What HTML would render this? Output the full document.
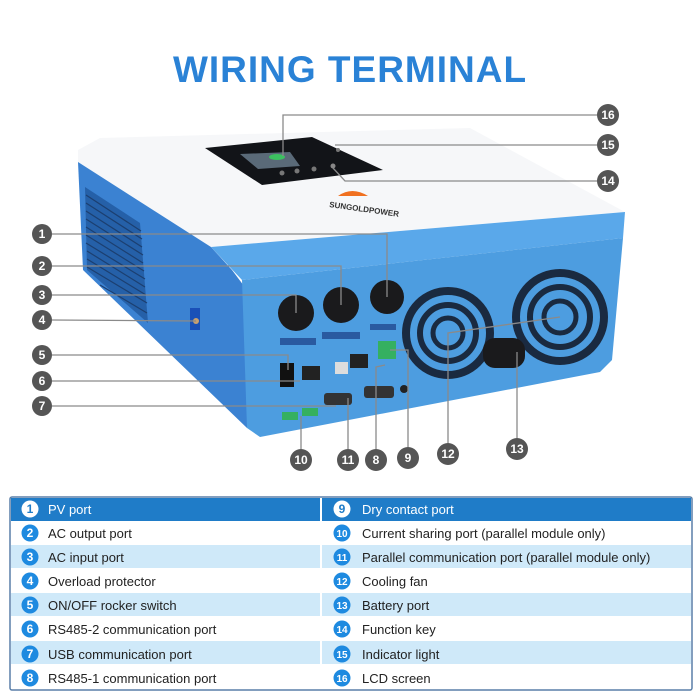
<!DOCTYPE html>
<html><head><meta charset="utf-8"><style>
body{margin:0;background:#fff;}
svg{display:block;font-family:"Liberation Sans",sans-serif;}
</style></head><body>
<svg width="700" height="700" viewBox="0 0 700 700">
<text x="350" y="82" text-anchor="middle" font-size="37" font-weight="bold" fill="#2a82d6" letter-spacing="1">WIRING TERMINAL</text>

<!-- device -->
<polygon points="78,150 100,138 470,128 625,212 211,247 78,162" fill="#f6f7f9"/>
<polygon points="78,162 211,247 232,270 247,290 247,428 83,270" fill="#3b82d2"/>
<polygon points="85,187 140,223 148,323 87,270" fill="#2560a8"/>
<g stroke="#1c3f70" stroke-width="1.2">
<line x1="86" y1="195" x2="141" y2="231"/><line x1="86" y1="203" x2="142" y2="239"/><line x1="86" y1="211" x2="142" y2="247"/><line x1="86" y1="219" x2="143" y2="255"/><line x1="86" y1="227" x2="143" y2="263"/><line x1="86" y1="235" x2="144" y2="271"/><line x1="86" y1="243" x2="145" y2="279"/><line x1="87" y1="251" x2="145" y2="287"/><line x1="87" y1="259" x2="146" y2="295"/><line x1="87" y1="267" x2="147" y2="303"/><line x1="100" y1="285" x2="147" y2="313"/>
</g>
<rect x="190" y="308" width="10" height="22" fill="#1a50b8"/>
<circle cx="196" cy="321" r="3" fill="#c9a070"/>
<polygon points="211,247 625,212 623,238 242,280" fill="#5aa8ea"/>
<polygon points="242,280 623,238 612,360 600,372 260,437 247,428" fill="#4d9de0"/>

<!-- screen panel -->
<polygon points="205,148 312,137 383,170 262,185" fill="#121418"/>
<polygon points="240,154 290,152 300,166 258,169" fill="#5a6a78"/>
<ellipse cx="277" cy="157" rx="8" ry="3" fill="#3cc060"/>
<circle cx="282" cy="173" r="2.5" fill="#777"/><circle cx="297" cy="171" r="2.5" fill="#777"/><circle cx="314" cy="169" r="2.5" fill="#777"/><circle cx="333" cy="166" r="2.5" fill="#888"/><circle cx="338" cy="150" r="2" fill="#777"/>
<path d="M338,196 Q352,186 368,196" fill="#f07020"/>
<text x="329" y="207" font-size="8" font-weight="bold" fill="#333" transform="rotate(8 329 207)">SUNGOLDPOWER</text>

<!-- ports -->
<circle cx="296" cy="313" r="18" fill="#1a1a1c"/><circle cx="341" cy="305" r="18" fill="#1a1a1c"/><circle cx="387" cy="297" r="17" fill="#1a1a1c"/>
<rect x="280" y="338" width="36" height="7" fill="#2a5aa0"/><rect x="322" y="332" width="38" height="7" fill="#2a5aa0"/><rect x="370" y="324" width="26" height="6" fill="#2a5aa0"/>
<rect x="280" y="363" width="14" height="24" fill="#111"/>
<rect x="302" y="366" width="18" height="14" fill="#222"/>
<rect x="335" y="362" width="13" height="12" fill="#ddd"/>
<rect x="350" y="354" width="18" height="14" fill="#222"/>
<rect x="378" y="341" width="18" height="18" fill="#35b060"/>
<rect x="324" y="393" width="28" height="12" rx="3" fill="#333"/><rect x="364" y="386" width="30" height="12" rx="3" fill="#333"/>
<rect x="282" y="412" width="16" height="8" fill="#35b060"/><rect x="302" y="408" width="16" height="8" fill="#35b060"/>
<circle cx="404" cy="389" r="4" fill="#222"/>
<!-- fans -->
<g fill="none" stroke="#1a2a40">
<circle cx="448" cy="333" r="42" stroke-width="8"/><circle cx="448" cy="333" r="28" stroke-width="6"/><circle cx="448" cy="333" r="15" stroke-width="5"/>
<circle cx="560" cy="317" r="44" stroke-width="8"/><circle cx="560" cy="317" r="30" stroke-width="6"/><circle cx="560" cy="317" r="16" stroke-width="5"/>
</g>
<circle cx="448" cy="333" r="10" fill="#4d9de0"/><circle cx="560" cy="317" r="10" fill="#4d9de0"/>
<rect x="483" y="338" width="42" height="30" rx="12" fill="#1a1a1c"/>

<!-- callout lines -->
<g stroke="#8a8a8a" stroke-width="1.3" fill="none">
<polyline points="52,234 387,234 387,297"/>
<polyline points="52,266 341,266 341,305"/>
<polyline points="52,295 296,295 296,313"/>
<line x1="52" y1="320" x2="196" y2="321"/>
<polyline points="52,355 288,355 288,370"/>
<line x1="52" y1="381" x2="300" y2="381"/>
<line x1="52" y1="406" x2="336" y2="406"/>
<line x1="301" y1="449" x2="301" y2="416"/>
<line x1="348" y1="449" x2="348" y2="398"/>
<polyline points="376,449 376,367 385,365"/>
<polyline points="408,447 408,350 390,350"/>
<polyline points="448,443 448,333 560,317"/>
<line x1="517" y1="438" x2="517" y2="352"/>
<polyline points="597,115 283,115 283,156"/>
<line x1="597" y1="145" x2="335" y2="145"/>
<polyline points="597,181 345,181 333,168"/>
</g>
<g font-size="12" font-weight="bold" fill="#fff" text-anchor="middle">
<g fill="#555"><circle cx="42" cy="234" r="10"/><circle cx="42" cy="266" r="10"/><circle cx="42" cy="295" r="10"/><circle cx="42" cy="320" r="10"/><circle cx="42" cy="355" r="10"/><circle cx="42" cy="381" r="10"/><circle cx="42" cy="406" r="10"/>
<circle cx="301" cy="460" r="11"/><circle cx="348" cy="460" r="11"/><circle cx="376" cy="460" r="11"/><circle cx="408" cy="458" r="11"/><circle cx="448" cy="454" r="11"/><circle cx="517" cy="449" r="11"/>
<circle cx="608" cy="115" r="11"/><circle cx="608" cy="145" r="11"/><circle cx="608" cy="181" r="11"/></g>
<text x="42" y="238">1</text><text x="42" y="270">2</text><text x="42" y="299">3</text><text x="42" y="324">4</text><text x="42" y="359">5</text><text x="42" y="385">6</text><text x="42" y="410">7</text>
<text x="301" y="464">10</text><text x="348" y="464">11</text><text x="376" y="464">8</text><text x="408" y="462">9</text><text x="448" y="458">12</text><text x="517" y="453">13</text>
<text x="608" y="119">16</text><text x="608" y="149">15</text><text x="608" y="185">14</text>
</g>

<!-- table -->
<rect x="10" y="497" width="682" height="193" fill="#fff" stroke="#5a7fa8" stroke-width="1.5" rx="2"/>
<rect x="11" y="498" width="680" height="23" fill="#1f7cc8"/>
<rect x="11" y="545" width="680" height="23" fill="#cfe9f9"/>
<rect x="11" y="593" width="680" height="23" fill="#cfe9f9"/>
<rect x="11" y="641" width="680" height="23" fill="#cfe9f9"/>
<line x1="321" y1="498" x2="321" y2="689" stroke="#fff" stroke-width="2"/>
<g fill="#1e8ae0"><circle cx="30" cy="533" r="8.5"/><circle cx="30" cy="557" r="8.5"/><circle cx="30" cy="581" r="8.5"/><circle cx="30" cy="605" r="8.5"/><circle cx="30" cy="629" r="8.5"/><circle cx="30" cy="654" r="8.5"/><circle cx="30" cy="678" r="8.5"/>
<circle cx="342" cy="533" r="8.5"/><circle cx="342" cy="557" r="8.5"/><circle cx="342" cy="581" r="8.5"/><circle cx="342" cy="605" r="8.5"/><circle cx="342" cy="629" r="8.5"/><circle cx="342" cy="654" r="8.5"/><circle cx="342" cy="678" r="8.5"/></g>
<circle cx="30" cy="509" r="8.5" fill="#fff"/><circle cx="342" cy="509" r="8.5" fill="#fff"/>
<g font-size="12" font-weight="bold" text-anchor="middle" fill="#fff">
<text x="30" y="513" fill="#1f7cc8">1</text><text x="342" y="513" fill="#1f7cc8">9</text>
<text x="30" y="537">2</text><text x="30" y="561">3</text><text x="30" y="585">4</text><text x="30" y="609">5</text><text x="30" y="633">6</text><text x="30" y="658">7</text><text x="30" y="682">8</text>
<text x="342" y="537" font-size="10">10</text><text x="342" y="561" font-size="10">11</text><text x="342" y="585" font-size="10">12</text><text x="342" y="609" font-size="10">13</text><text x="342" y="633" font-size="10">14</text><text x="342" y="658" font-size="10">15</text><text x="342" y="682" font-size="10">16</text>
</g>
<g font-size="13" fill="#222">
<text x="48" y="514" fill="#fff">PV port</text>
<text x="48" y="538">AC output port</text>
<text x="48" y="562">AC input port</text>
<text x="48" y="586">Overload protector</text>
<text x="48" y="610">ON/OFF rocker switch</text>
<text x="48" y="634">RS485-2 communication port</text>
<text x="48" y="659">USB communication port</text>
<text x="48" y="683">RS485-1 communication port</text>
<text x="362" y="514" fill="#fff">Dry contact port</text>
<text x="362" y="538">Current sharing port (parallel module only)</text>
<text x="362" y="562">Parallel communication port (parallel module only)</text>
<text x="362" y="586">Cooling fan</text>
<text x="362" y="610">Battery port</text>
<text x="362" y="634">Function key</text>
<text x="362" y="659">Indicator light</text>
<text x="362" y="683">LCD screen</text>
</g>
</svg>
</body></html>
